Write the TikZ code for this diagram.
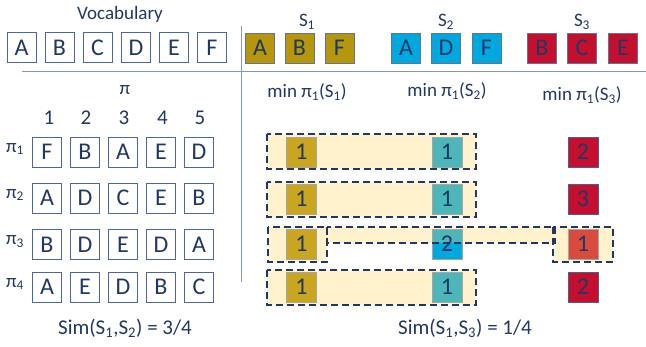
\documentclass[tikz,border=0pt]{standalone}
\usepackage{fontspec}
\setmainfont{Carlito}
\definecolor{navy}{HTML}{1F3864}
\definecolor{boxline}{HTML}{4A67A0}
\definecolor{rule}{HTML}{8497B8}
\definecolor{gold}{HTML}{B5960C}
\definecolor{sky}{HTML}{00A8E0}
\definecolor{crimson}{HTML}{C50F2F}
\definecolor{cream}{HTML}{FFF2CC}
\definecolor{goldhl}{HTML}{C9A520}
\definecolor{tealhl}{HTML}{4CB6B8}
\definecolor{redhl}{HTML}{D84B3E}
\newcommand{\sbs}[1]{\textsubscript{#1}}
\begin{document}
\begin{tikzpicture}[x=1pt,y=-1pt,
  every node/.style={text=navy, inner sep=0pt},
  letterbox/.style={draw=boxline, line width=0.8pt, minimum width=29pt, minimum height=30pt,
    font=\fontsize{24}{24}\selectfont},
  setbox/.style={letterbox, draw=navy!70, fill=#1},
  resbox/.style={draw=gray!70, line width=0.6pt, fill=#1, minimum width=30pt, minimum height=30pt,
    font=\fontsize{24}{24}\selectfont},
  label/.style={font=\fontsize{19}{19}\selectfont},
  biglabel/.style={font=\fontsize{21}{21}\selectfont},
  hlfill/.style={fill=cream},
  hlline/.style={draw=navy, line width=2.2pt, dash pattern=on 7pt off 4pt}]
\useasboundingbox (0,0) rectangle (646,347);

% separators
\draw[rule, line width=1pt] (22,72) -- (646,72);
\draw[rule, line width=1pt] (241,26) -- (241,282);

% vocabulary
\node[label] (voc) at (120,14) {Vocabulary};
\foreach \l/\x in {A/21.5,B/59.5,C/97.5,D/136,E/174,F/212}
  \node[letterbox] (v\l) at (\x,47.5) {\l};

% the three sets
\node[label] (s1) at (307,22) {S\sbs{1}};
\node[label] (s2) at (446,22) {S\sbs{2}};
\node[label] (s3) at (582,22) {S\sbs{3}};
\foreach \l/\x [count=\i] in {A/260,B/299.5,F/339.5}
  \node[setbox=gold] (sa\i) at (\x,48) {\l};
\foreach \l/\x [count=\i] in {A/406,D/446,F/486.5}
  \node[setbox=sky] (sb\i) at (\x,48) {\l};
\foreach \l/\x [count=\i] in {B/542,C/582,E/623}
  \node[setbox=crimson] (sc\i) at (\x,48) {\l};

% permutations
\node[label] (pi) at (125,90) {π};
\foreach \n/\x in {1/49,2/86,3/124,4/162.5,5/200}
  \node[biglabel] (col\n) at (\x,118) {\n};
\foreach \row/\y/\letters in {1/152/{F,B,A,E,D},2/198/{A,D,C,E,B},3/244.5/{B,D,E,D,A},4/287/{A,E,D,B,C}}{
  \node[label] (p\row) at (15,\y-3) {π\sbs{\row}};
  \foreach \l [count=\c] in \letters
    \node[letterbox] (r\row c\c) at (9+38*\c,\y) {\l};
}
\node[biglabel] (sim12) at (125,328) {Sim(S\sbs{1},S\sbs{2}) = 3/4};

% minimum hash columns
\node[label] (m1) at (307,92) {min π\sbs{1}(S\sbs{1})};
\node[label] (m2) at (447,91) {min π\sbs{1}(S\sbs{2})};
\node[label] (m3) at (582,95) {min π\sbs{1}(S\sbs{3})};

% highlighted agreements
\fill[hlfill] (267,134) rectangle (476,169);
\fill[hlfill] (267,182) rectangle (476,217);
\fill[hlfill] (267,270) rectangle (476,305);
\fill[hlfill] (268,227) rectangle (327,262);
\fill[hlfill] (327,227) rectangle (555,243);
\fill[hlfill] (553,227) rectangle (613,262);

% hash values
\foreach \row/\y/\c in {1/152/2,2/199/3,4/287/2}{
  \node[resbox=goldhl] (a\row) at (301.5,\y) {1};
  \node[resbox=tealhl] (b\row) at (447,\y) {1};
  \node[resbox=crimson, draw=navy!80] (c\row) at (583,\y) {\c};
}
\node[resbox=goldhl] (a3) at (301.5,244) {1};
\node[resbox=sky, path picture={\fill[tealhl] (path picture bounding box.north west)
  rectangle ([yshift=-14pt]path picture bounding box.north east);}] (b3) at (447,244) {2};
\node[resbox=redhl] (c3) at (583,244) {1};

% dashed outlines
\draw[hlline] (267,134) rectangle (476,169);
\draw[hlline] (267,182) rectangle (476,217);
\draw[hlline] (267,270) rectangle (476,305);
\draw[hlline] (268,227) rectangle (327,262);
\draw[hlline] (327,227) rectangle (555,243);
\draw[hlline] (553,227) rectangle (613,262);

\node[biglabel] (sim13) at (465,328) {Sim(S\sbs{1},S\sbs{3}) = 1/4};
\end{tikzpicture}
\end{document}
